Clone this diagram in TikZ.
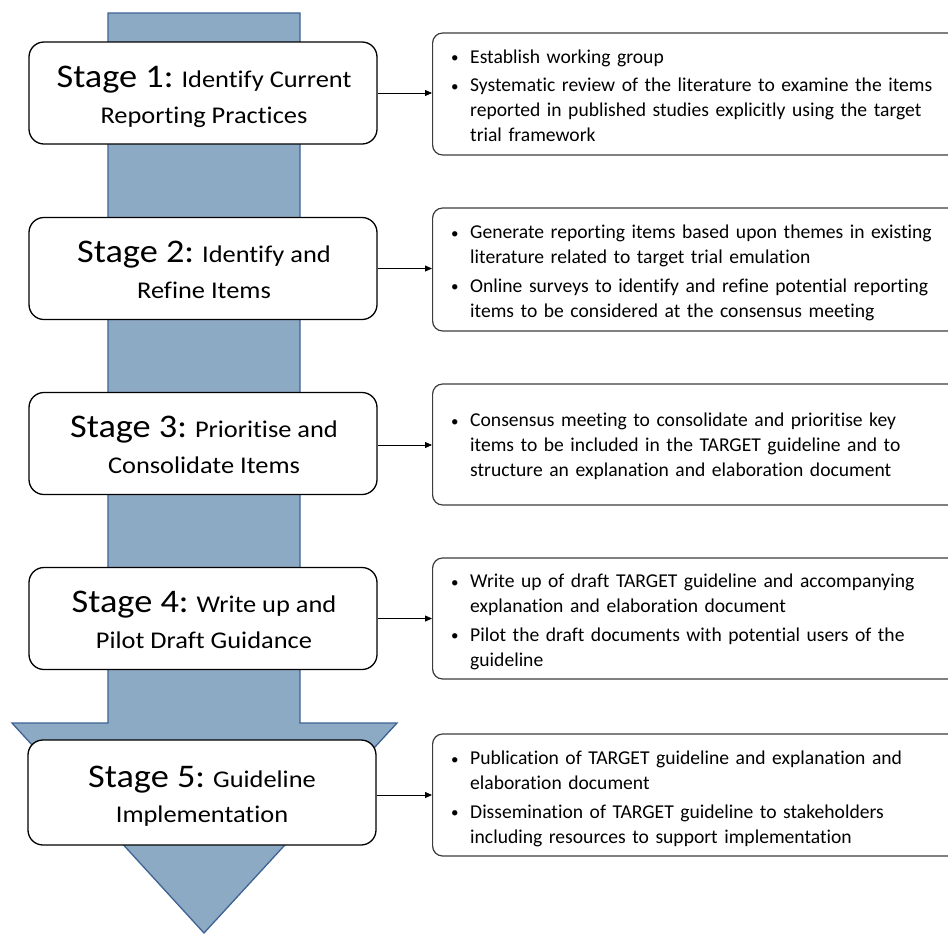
\documentclass[tikz,border=0pt]{standalone}
\usepackage{fontspec}
\setmainfont{Carlito}[Ligatures={NoCommon}]
\newfontfamily\stagefont{Carlito}[FakeStretch=1.1, Ligatures={NoCommon}]
\usetikzlibrary{arrows.meta}
\hyphenpenalty=10000\relax
\exhyphenpenalty=10000\relax
\definecolor{arrowfill}{RGB}{141,170,196}
\definecolor{arrowline}{RGB}{62,98,148}
\definecolor{boxline}{RGB}{60,60,60}
\newcommand\itm[1]{\par\hangindent=22pt\relax\hangafter=1\relax\noindent\strut\makebox[22pt][l]{\hspace{3pt}\raisebox{0.5pt}{\fontsize{15}{15}\selectfont\textbullet}}#1\par}
\newcommand\itmgap{\vspace{3.5pt}}
\newcommand\stg[1]{{\fontsize{33}{36}\selectfont Stage #1:}}
\tikzset{
  stagebox/.style={draw=black, line width=1.3pt, rounded corners=15pt, fill=white,
    minimum width=348pt, minimum height=102pt, inner sep=0pt},
  itembox/.style={draw=boxline, line width=1.2pt, rounded corners=10pt, fill=white,
    minimum width=540pt, minimum height=122pt, anchor=west, inner sep=0pt},
  stageline/.style={anchor=base, inner sep=0pt, font=\stagefont\fontsize{24}{36}\selectfont},
  itemtext/.style={anchor=north west, text width=560pt, align=left, inner sep=0pt,
    font=\fontsize{19.6}{25}\selectfont},
  link/.style={-{Triangle[length=7pt,width=6pt]}, line width=0.8pt, draw=black},
  bigarrow/.style={fill=arrowfill, draw=arrowline, line width=1.3pt, line join=miter}
}
\begin{document}
\begin{tikzpicture}[x=1pt,y=-1pt]
\useasboundingbox (0,0) rectangle (948,935);
% big arrow
\draw[bigarrow] (108,13) -- (300,13) -- (300,723) -- (397,723) -- (204,933)
  -- (12,723) -- (108,723) -- cycle;
% stage boxes
\node[stagebox] (s1) at (203,93) {};
\node[stagebox] (s2) at (203,268.5) {};
\node[stagebox] (s3) at (203,443.5) {};
\node[stagebox] (s4) at (203,618.5) {};
\node[stagebox, minimum height=105pt] (s5) at (202,792.5) {};
\node[stageline] (t1a) at (204,87) {\stg{1} Identify Current};
\node[stageline] (t1b) at (204,123) {Reporting Practices};
\node[stageline] (t2a) at (204,262.5) {\stg{2} Identify and};
\node[stageline] (t2b) at (204,298.5) {Refine Items};
\node[stageline] (t3a) at (204,437.5) {\stg{3} Prioritise and};
\node[stageline] (t3b) at (204,473.5) {Consolidate Items};
\node[stageline] (t4a) at (204,612.5) {\stg{4} Write up and};
\node[stageline] (t4b) at (204,648.5) {Pilot Draft Guidance};
\node[stageline] (t5a) at (202,787) {\stg{5} Guideline};
\node[stageline] (t5b) at (202,822) {Implementation};
% item boxes
\node[itembox] (r1) at (432,94) {};
\node[itembox, minimum height=123pt] (r2) at (432,269.5) {};
\node[itembox, minimum height=121pt] (r3) at (432,444.5) {};
\node[itembox, minimum height=121pt] (r4) at (432,618.5) {};
\node[itembox] (r5) at (432,795) {};
\node[itemtext] (i1) at (448,38) {%
  \itm{Establish working group}\itmgap
  \itm{Systematic review of the literature to examine the items\newline reported in published studies explicitly using the target\newline trial framework}};
\node[itemtext] (i2) at (448,213.5) {%
  \itm{Generate reporting items based upon themes in existing\newline literature related to target trial emulation}\itmgap
  \itm{Online surveys to identify and refine potential reporting\newline items to be considered at the consensus meeting}};
\node[itemtext] (i3) at (448,401.5) {%
  \itm{Consensus meeting to consolidate and prioritise key\newline items to be included in the TARGET guideline and to\newline structure an explanation and elaboration document}};
\node[itemtext] (i4) at (448,562.5) {%
  \itm{Write up of draft TARGET guideline and accompanying\newline explanation and elaboration document}\itmgap
  \itm{Pilot the draft documents with potential users of the\newline guideline}};
\node[itemtext] (i5) at (448,739.5) {%
  \itm{Publication of TARGET guideline and explanation and\newline elaboration document}\itmgap
  \itm{Dissemination of TARGET guideline to stakeholders\newline including resources to support implementation}};
% connectors
\draw[link] (s1.east) -- (s1.east -| r1.west);
\draw[link] (s2.east) -- (s2.east -| r2.west);
\draw[link] ([yshift=-1.5pt]s3.east) -- ([yshift=-1.5pt]s3.east -| r3.west);
\draw[link] (s4.east) -- (s4.east -| r4.west);
\draw[link] ([yshift=-2.5pt]s5.east) -- ([yshift=-2.5pt]s5.east -| r5.west);
\end{tikzpicture}
\end{document}
